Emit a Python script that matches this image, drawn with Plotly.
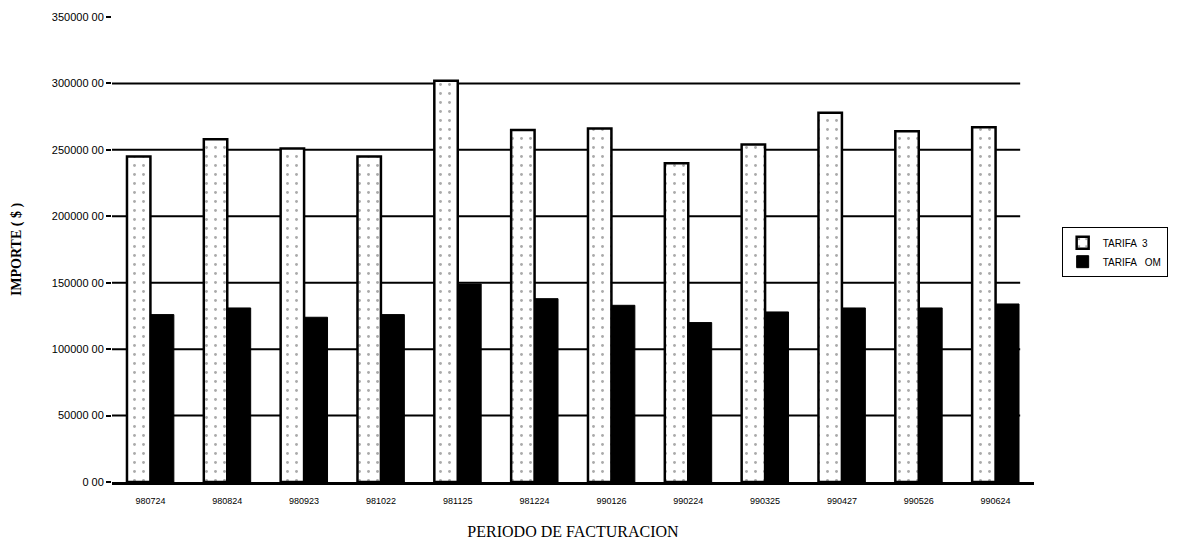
import plotly.graph_objects as go

# Billing periods and amounts for each tariff
periodos = ["980724", "980824", "980923", "981022", "981125", "981224",
            "990126", "990224", "990325", "990427", "990526", "990624"]
tarifa_3 = [245000, 258000, 251000, 245000, 302000, 265000,
            266000, 240000, 254000, 278000, 264000, 267000]
tarifa_om = [126000, 131000, 124000, 126000, 149000, 138000,
             133000, 120000, 128000, 131000, 131000, 134000]

y_ticks = [0, 50000, 100000, 150000, 200000, 250000, 300000, 350000]
y_tick_text = ["0 00", "50000 00", "100000 00", "150000 00", "200000 00",
               "250000 00", "300000 00", "350000 00"]
grid_values = [50000, 100000, 150000, 200000, 250000, 300000]

fig = go.Figure()
fig.add_trace(go.Bar(
    x=periodos, y=tarifa_3, name="TARIFA  3",
    marker=dict(color="white", line=dict(color="black", width=2.5),
                pattern=dict(shape=".", fgcolor="#555555", bgcolor="white",
                             size=9, solidity=0.08)),
))
fig.add_trace(go.Bar(
    x=periodos, y=tarifa_om, name="TARIFA   OM",
    marker=dict(color="black", line=dict(color="black", width=1)),
))

# horizontal rules behind the bars
for v in grid_values:
    fig.add_shape(type="line", xref="paper", yref="y", x0=0, x1=0.985, y0=v, y1=v,
                  line=dict(color="black", width=2), layer="below")

fig.update_layout(
    width=1185, height=545,
    margin=dict(l=112, r=151, t=17, b=63),
    paper_bgcolor="white", plot_bgcolor="white",
    barmode="group", bargap=0.39, bargroupgap=0,
    font=dict(family="Liberation Sans, Arial, sans-serif", color="black", size=10),
    showlegend=True,
    legend=dict(x=1.03, y=0.548, xanchor="left", yanchor="top",
                bordercolor="black", borderwidth=1, bgcolor="white",
                font=dict(size=10, family="Liberation Sans, Arial, sans-serif"),
                tracegroupgap=2, itemwidth=30),
    xaxis=dict(
        automargin=False,
        showgrid=False, showline=True, linecolor="black", linewidth=2.5,
        ticks="", tickfont=dict(size=9), ticklabelstandoff=8,
        title=dict(text="PERIODO DE FACTURACION", standoff=22,
                   font=dict(family="Liberation Serif, DejaVu Serif, serif", size=16)),
    ),
    yaxis=dict(
        automargin=False,
        range=[0, 350000], tickvals=y_ticks, ticktext=y_tick_text,
        showgrid=False, zeroline=False, showline=False,
        ticks="outside", ticklen=5, tickcolor="black", tickwidth=1.5,
        tickfont=dict(size=11),
        title=dict(text="<b>IMPORTE ( $ )</b>", standoff=26,
                   font=dict(family="Liberation Serif, DejaVu Serif, serif", size=14)),
    ),
)

fig.write_html("out.html")
